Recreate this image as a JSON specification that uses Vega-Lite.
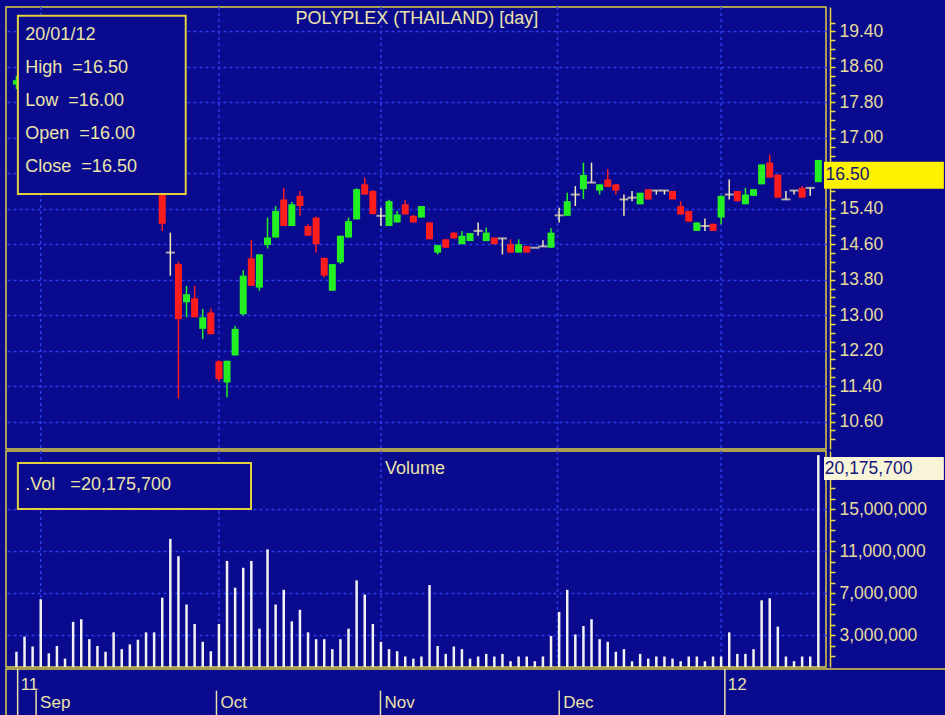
{
"$schema": "https://vega.github.io/schema/vega-lite/v6.json",
"background": "#0a0a8e",
"padding": {"left": 5, "top": 5, "right": 0, "bottom": 0},
"spacing": 2,
"bounds": "flush",
"config": {
  "view": {"stroke": "#e0d040", "strokeWidth": 1.5, "fill": "#0a0a8e"},
  "font": "Liberation Sans",
  "text": {"font": "Liberation Sans", "fontSize": 18, "color": "#ece4a8"}
},
"datasets": {
  "ohlc": [
{"i":0,"open":18.2,"high":18.4,"low":18.1,"close":18.3,"vol":1450000,"dir":"up"},
{"i":1,"open":18.3,"high":18.4,"low":18.0,"close":18.1,"vol":2900000,"dir":"down"},
{"i":2,"open":18.1,"high":18.3,"low":17.9,"close":18.2,"vol":1950000,"dir":"up"},
{"i":3,"open":18.2,"high":18.5,"low":18.1,"close":18.4,"vol":6450000,"dir":"up"},
{"i":4,"open":18.4,"high":18.5,"low":18.1,"close":18.2,"vol":1300000,"dir":"down"},
{"i":5,"open":18.2,"high":18.3,"low":17.9,"close":18.0,"vol":2000000,"dir":"down"},
{"i":6,"open":18.0,"high":18.1,"low":17.9,"close":18.0,"vol":800000,"dir":"doji"},
{"i":7,"open":18.0,"high":18.2,"low":17.6,"close":17.7,"vol":4300000,"dir":"down"},
{"i":8,"open":17.7,"high":18.0,"low":17.6,"close":17.9,"vol":4550000,"dir":"up"},
{"i":9,"open":17.9,"high":18.0,"low":17.6,"close":17.7,"vol":2650000,"dir":"down"},
{"i":10,"open":17.7,"high":17.8,"low":17.4,"close":17.5,"vol":2000000,"dir":"down"},
{"i":11,"open":17.5,"high":17.7,"low":17.4,"close":17.6,"vol":1450000,"dir":"up"},
{"i":12,"open":17.6,"high":17.7,"low":17.1,"close":17.2,"vol":3300000,"dir":"down"},
{"i":13,"open":17.2,"high":17.4,"low":17.1,"close":17.3,"vol":1700000,"dir":"up"},
{"i":14,"open":17.3,"high":17.4,"low":16.9,"close":17.0,"vol":2150000,"dir":"down"},
{"i":15,"open":17.0,"high":17.2,"low":16.8,"close":17.1,"vol":2600000,"dir":"up"},
{"i":16,"open":17.1,"high":17.2,"low":16.5,"close":16.6,"vol":3300000,"dir":"down"},
{"i":17,"open":16.6,"high":16.8,"low":16.1,"close":16.2,"vol":3300000,"dir":"down"},
{"i":18,"open":16.2,"high":16.3,"low":14.9,"close":15.06,"vol":6600000,"dir":"down"},
{"i":19,"open":14.41,"high":14.86,"low":13.89,"close":14.41,"vol":12200000,"dir":"doji"},
{"i":20,"open":14.15,"high":14.2,"low":11.12,"close":12.91,"vol":10550000,"dir":"down"},
{"i":21,"open":13.29,"high":13.66,"low":12.95,"close":13.47,"vol":5950000,"dir":"up"},
{"i":22,"open":13.38,"high":13.66,"low":12.95,"close":12.95,"vol":4100000,"dir":"down"},
{"i":23,"open":12.69,"high":13.14,"low":12.46,"close":12.95,"vol":2400000,"dir":"up"},
{"i":24,"open":13.06,"high":13.15,"low":12.57,"close":12.57,"vol":1500000,"dir":"down"},
{"i":25,"open":11.96,"high":11.98,"low":11.5,"close":11.56,"vol":4100000,"dir":"down"},
{"i":26,"open":11.48,"high":11.97,"low":11.15,"close":11.97,"vol":10100000,"dir":"up"},
{"i":27,"open":12.09,"high":12.76,"low":12.09,"close":12.69,"vol":7550000,"dir":"up"},
{"i":28,"open":13.02,"high":14.01,"low":12.99,"close":13.89,"vol":9450000,"dir":"up"},
{"i":29,"open":14.28,"high":14.69,"low":13.66,"close":13.66,"vol":10100000,"dir":"down"},
{"i":30,"open":13.62,"high":14.37,"low":13.55,"close":14.37,"vol":3650000,"dir":"up"},
{"i":31,"open":14.58,"high":15.2,"low":14.5,"close":14.75,"vol":11200000,"dir":"up"},
{"i":32,"open":14.75,"high":15.46,"low":14.75,"close":15.35,"vol":5950000,"dir":"up"},
{"i":33,"open":15.61,"high":15.87,"low":15.01,"close":15.01,"vol":7350000,"dir":"down"},
{"i":34,"open":15.01,"high":15.55,"low":15.01,"close":15.5,"vol":4350000,"dir":"up"},
{"i":35,"open":15.69,"high":15.8,"low":15.24,"close":15.46,"vol":5450000,"dir":"down"},
{"i":36,"open":15.01,"high":15.05,"low":14.79,"close":14.79,"vol":3300000,"dir":"down"},
{"i":37,"open":15.2,"high":15.22,"low":14.41,"close":14.6,"vol":2650000,"dir":"down"},
{"i":38,"open":14.29,"high":14.3,"low":13.85,"close":13.89,"vol":2650000,"dir":"down"},
{"i":39,"open":13.55,"high":14.15,"low":13.55,"close":14.15,"vol":1700000,"dir":"up"},
{"i":40,"open":14.19,"high":14.79,"low":14.15,"close":14.79,"vol":2650000,"dir":"up"},
{"i":41,"open":14.75,"high":15.2,"low":14.75,"close":15.12,"vol":3650000,"dir":"up"},
{"i":42,"open":15.16,"high":15.86,"low":15.16,"close":15.84,"vol":8250000,"dir":"up"},
{"i":43,"open":15.95,"high":16.1,"low":15.72,"close":15.72,"vol":6900000,"dir":"down"},
{"i":44,"open":15.8,"high":15.82,"low":15.27,"close":15.28,"vol":4100000,"dir":"down"},
{"i":45,"open":15.24,"high":15.42,"low":15.01,"close":15.24,"vol":2400000,"dir":"doji"},
{"i":46,"open":15.01,"high":15.6,"low":15.01,"close":15.57,"vol":1700000,"dir":"up"},
{"i":47,"open":15.09,"high":15.35,"low":15.09,"close":15.27,"vol":1500000,"dir":"up"},
{"i":48,"open":15.5,"high":15.59,"low":15.27,"close":15.27,"vol":1000000,"dir":"down"},
{"i":49,"open":15.24,"high":15.26,"low":15.09,"close":15.09,"vol":800000,"dir":"down"},
{"i":50,"open":15.2,"high":15.46,"low":15.2,"close":15.46,"vol":1000000,"dir":"up"},
{"i":51,"open":15.09,"high":15.1,"low":14.71,"close":14.71,"vol":7800000,"dir":"down"},
{"i":52,"open":14.41,"high":14.58,"low":14.37,"close":14.58,"vol":2000000,"dir":"up"},
{"i":53,"open":14.71,"high":14.72,"low":14.52,"close":14.52,"vol":1250000,"dir":"down"},
{"i":54,"open":14.86,"high":14.88,"low":14.73,"close":14.73,"vol":1950000,"dir":"down"},
{"i":55,"open":14.6,"high":14.9,"low":14.6,"close":14.79,"vol":1700000,"dir":"up"},
{"i":56,"open":14.67,"high":14.85,"low":14.67,"close":14.85,"vol":800000,"dir":"up"},
{"i":57,"open":14.9,"high":15.09,"low":14.79,"close":14.9,"vol":1000000,"dir":"doji"},
{"i":58,"open":14.67,"high":14.97,"low":14.67,"close":14.86,"vol":1250000,"dir":"up"},
{"i":59,"open":14.75,"high":14.75,"low":14.6,"close":14.6,"vol":1000000,"dir":"down"},
{"i":60,"open":14.73,"high":14.73,"low":14.37,"close":14.73,"vol":1250000,"dir":"doji"},
{"i":61,"open":14.6,"high":14.71,"low":14.41,"close":14.41,"vol":550000,"dir":"down"},
{"i":62,"open":14.41,"high":14.71,"low":14.41,"close":14.6,"vol":1000000,"dir":"up"},
{"i":63,"open":14.56,"high":14.56,"low":14.41,"close":14.41,"vol":1000000,"dir":"down"},
{"i":64,"open":14.52,"high":14.52,"low":14.52,"close":14.52,"vol":550000,"dir":"doji"},
{"i":65,"open":14.55,"high":14.69,"low":14.55,"close":14.55,"vol":1000000,"dir":"doji"},
{"i":66,"open":14.52,"high":14.96,"low":14.52,"close":14.86,"vol":2950000,"dir":"up"},
{"i":67,"open":15.25,"high":15.42,"low":15.09,"close":15.25,"vol":5250000,"dir":"doji"},
{"i":68,"open":15.24,"high":15.76,"low":15.24,"close":15.57,"vol":7350000,"dir":"up"},
{"i":69,"open":15.72,"high":15.91,"low":15.46,"close":15.72,"vol":3100000,"dir":"doji"},
{"i":70,"open":15.84,"high":16.44,"low":15.62,"close":16.16,"vol":3900000,"dir":"up"},
{"i":71,"open":15.99,"high":16.44,"low":15.99,"close":15.99,"vol":4550000,"dir":"doji"},
{"i":72,"open":15.81,"high":15.95,"low":15.72,"close":15.95,"vol":2650000,"dir":"up"},
{"i":73,"open":16.06,"high":16.29,"low":15.89,"close":15.89,"vol":2400000,"dir":"down"},
{"i":74,"open":15.95,"high":15.95,"low":15.72,"close":15.81,"vol":1450000,"dir":"down"},
{"i":75,"open":15.61,"high":15.72,"low":15.24,"close":15.61,"vol":1700000,"dir":"doji"},
{"i":76,"open":15.65,"high":15.8,"low":15.57,"close":15.65,"vol":550000,"dir":"doji"},
{"i":77,"open":15.5,"high":15.76,"low":15.5,"close":15.76,"vol":1250000,"dir":"up"},
{"i":78,"open":15.84,"high":15.84,"low":15.61,"close":15.61,"vol":800000,"dir":"down"},
{"i":79,"open":15.81,"high":15.81,"low":15.72,"close":15.81,"vol":1000000,"dir":"doji"},
{"i":80,"open":15.81,"high":15.81,"low":15.72,"close":15.81,"vol":1000000,"dir":"doji"},
{"i":81,"open":15.8,"high":15.8,"low":15.61,"close":15.61,"vol":800000,"dir":"down"},
{"i":82,"open":15.46,"high":15.57,"low":15.27,"close":15.27,"vol":550000,"dir":"down"},
{"i":83,"open":15.35,"high":15.35,"low":15.11,"close":15.11,"vol":1000000,"dir":"down"},
{"i":84,"open":14.9,"high":15.09,"low":14.9,"close":15.09,"vol":1000000,"dir":"up"},
{"i":85,"open":15.01,"high":15.18,"low":14.9,"close":15.01,"vol":550000,"dir":"doji"},
{"i":86,"open":15.06,"high":15.06,"low":14.9,"close":14.9,"vol":1000000,"dir":"down"},
{"i":87,"open":15.2,"high":15.69,"low":15.05,"close":15.69,"vol":1000000,"dir":"up"},
{"i":88,"open":15.72,"high":16.06,"low":15.61,"close":15.72,"vol":3300000,"dir":"doji"},
{"i":89,"open":15.8,"high":15.8,"low":15.57,"close":15.57,"vol":1250000,"dir":"down"},
{"i":90,"open":15.5,"high":15.87,"low":15.5,"close":15.72,"vol":1250000,"dir":"up"},
{"i":91,"open":15.69,"high":15.84,"low":15.69,"close":15.84,"vol":1700000,"dir":"up"},
{"i":92,"open":15.95,"high":16.4,"low":15.95,"close":16.4,"vol":6350000,"dir":"up"},
{"i":93,"open":16.44,"high":16.62,"low":16.1,"close":16.1,"vol":6550000,"dir":"down"},
{"i":94,"open":16.17,"high":16.17,"low":15.65,"close":15.65,"vol":3850000,"dir":"down"},
{"i":95,"open":15.61,"high":15.8,"low":15.61,"close":15.61,"vol":1000000,"dir":"doji"},
{"i":96,"open":15.81,"high":15.81,"low":15.72,"close":15.81,"vol":550000,"dir":"doji"},
{"i":97,"open":15.87,"high":15.91,"low":15.65,"close":15.65,"vol":1000000,"dir":"down"},
{"i":98,"open":15.87,"high":15.87,"low":15.69,"close":15.87,"vol":1000000,"dir":"doji"},
{"i":99,"open":16.0,"high":16.5,"low":16.0,"close":16.5,"vol":20175700,"dir":"up"}
  ],
  "periods": [
    {"i": 0.75, "label": "11", "kind": "year"},
    {"i": 3, "label": "Sep", "kind": "month"},
    {"i": 25, "label": "Oct", "kind": "month"},
    {"i": 45, "label": "Nov", "kind": "month"},
    {"i": 66.8, "label": "Dec", "kind": "month"},
    {"i": 87, "label": "12", "kind": "year"}
  ],
  "note": [{"n": 1}]
},
"vconcat": [
{
  "width": 820, "height": 442,
  "layer": [
    {"data": {"name": "periods"},
     "transform": [{"filter": "datum.i > 1"}],
     "mark": {"type": "rule", "color": "#2a3ce8", "strokeWidth": 1.5, "strokeDash": [3, 3]},
     "encoding": {"x": {"field": "i", "type": "quantitative", "scale": {"domain": [-0.67, 99.33], "nice": false, "zero": false}, "axis": null}}},
    {"data": {"name": "ohlc"},
     "mark": {"type": "rule", "strokeWidth": 1.5, "clip": true},
     "encoding": {
       "x": {"field": "i", "type": "quantitative"},
       "y": {"field": "low", "type": "quantitative", "scale": {"domain": [9.98, 19.95], "nice": false, "zero": false},
         "axis": {"orient": "right", "title": null, "offset": 4, "tickCount": 200,
           "values": [10.2,10.4,10.6,10.8,11.0,11.2,11.4,11.6,11.8,12.0,12.2,12.4,12.6,12.8,13.0,13.2,13.4,13.6,13.8,14.0,14.2,14.4,14.6,14.8,15.0,15.2,15.4,15.6,15.8,16.0,16.2,16.4,16.6,16.8,17.0,17.2,17.4,17.6,17.8,18.0,18.2,18.4,18.6,18.8,19.0,19.2,19.4,19.6],
           "grid": true, "gridColor": "#2a3ce8", "gridDash": [3, 3], "gridWidth": 1.5,
           "gridOpacity": {"condition": {"test": "abs((datum.value-10.6)/0.8-round((datum.value-10.6)/0.8))<0.02", "value": 1}, "value": 0},
           "tickColor": "#e8d838", "tickWidth": 1.5, "tickSize": 5,
           "domain": true, "domainColor": "#e8d838", "domainWidth": 1.5,
           "labelExpr": "abs((datum.value-10.6)/0.8-round((datum.value-10.6)/0.8))<0.02 && abs(datum.value-16.2)>0.02 ? format(datum.value,'.2f') : ''",
           "labelColor": "#e6dc9c", "labelFontSize": 17.5, "labelPadding": 4, "labelFont": "Liberation Sans", "labelOverlap": false}},
       "y2": {"field": "high"},
       "color": {"field": "dir", "type": "nominal", "scale": {"domain": ["up", "down", "doji"], "range": ["#22f022", "#ff1c1c", "#f2eab8"]}, "legend": null}
     }},
    {"data": {"name": "ohlc"},
     "transform": [{"filter": "datum.dir != 'doji'"}],
     "mark": {"type": "bar", "size": 7, "clip": true},
     "encoding": {
       "x": {"field": "i", "type": "quantitative"},
       "y": {"field": "open", "type": "quantitative"},
       "y2": {"field": "close"},
       "color": {"field": "dir", "type": "nominal", "legend": null}
     }},
    {"data": {"name": "ohlc"},
     "transform": [{"filter": "datum.dir == 'doji'"}],
     "mark": {"type": "tick", "orient": "horizontal", "size": 9, "thickness": 2, "clip": true},
     "encoding": {
       "x": {"field": "i", "type": "quantitative"},
       "y": {"field": "open", "type": "quantitative"},
       "color": {"field": "dir", "type": "nominal", "legend": null}
     }},
    {"data": {"name": "note"},
     "mark": {"type": "rect", "fill": "#0a0a8e", "stroke": "#e0d040", "strokeWidth": 2, "clip": false},
     "encoding": {"x": {"datum": 0.18, "type": "quantitative"}, "x2": {"datum": 20.9}, "y": {"datum": 19.75, "type": "quantitative"}, "y2": {"datum": 15.73}}},
    {"data": {"name": "note"},
     "mark": {"type": "text", "align": "left", "baseline": "middle", "lineHeight": 33, "clip": false},
     "encoding": {"x": {"datum": 1.1, "type": "quantitative"}, "y": {"datum": 19.32, "type": "quantitative"},
       "text": {"value": ["20/01/12", "High\u00a0\u00a0=16.50", "Low\u00a0\u00a0=16.00", "Open\u00a0\u00a0=16.00", "Close\u00a0\u00a0=16.50"]}}},
    {"data": {"name": "note"},
     "mark": {"type": "text", "align": "center", "baseline": "middle", "clip": false},
     "encoding": {"x": {"datum": 49.45, "type": "quantitative"}, "y": {"datum": 19.67, "type": "quantitative"},
       "text": {"value": "POLYPLEX (THAILAND) [day]"}}},
    {"data": {"name": "note"},
     "mark": {"type": "rect", "fill": "#fff200", "clip": false},
     "encoding": {"x": {"datum": 99.7, "type": "quantitative"}, "x2": {"datum": 114.5}, "y": {"datum": 16.46, "type": "quantitative"}, "y2": {"datum": 15.85}}},
    {"data": {"name": "note"},
     "mark": {"type": "text", "align": "left", "baseline": "middle", "color": "#14147a", "fontSize": 17.5, "clip": false},
     "encoding": {"x": {"datum": 99.9, "type": "quantitative"}, "y": {"datum": 16.16, "type": "quantitative"},
       "text": {"value": "16.50"}}}
  ]
},
{
  "width": 820, "height": 216,
  "layer": [
    {"data": {"name": "periods"},
     "transform": [{"filter": "datum.i > 1"}],
     "mark": {"type": "rule", "color": "#2a3ce8", "strokeWidth": 1.5, "strokeDash": [3, 3]},
     "encoding": {"x": {"field": "i", "type": "quantitative", "scale": {"domain": [-0.67, 99.33], "nice": false, "zero": false}, "axis": null}}},
    {"data": {"name": "ohlc"},
     "mark": {"type": "bar", "size": 2.5, "color": "#f2f2f2", "clip": true},
     "encoding": {
       "x": {"field": "i", "type": "quantitative"},
       "y": {"field": "vol", "type": "quantitative", "scale": {"domain": [0, 20570000], "nice": false},
         "axis": {"orient": "right", "title": null, "offset": 4, "tickCount": 200,
           "values": [1000000,2000000,3000000,4000000,5000000,6000000,7000000,8000000,9000000,10000000,11000000,12000000,13000000,14000000,15000000,16000000,17000000,18000000,19000000],
           "grid": true, "gridColor": "#2a3ce8", "gridDash": [3, 3], "gridWidth": 1.5,
           "gridOpacity": {"condition": {"test": "(round(datum.value/1000000)-3)%4==0 && datum.value<16000000", "value": 1}, "value": 0},
           "tickColor": "#e8d838", "tickWidth": 1.5, "tickSize": 5,
           "domain": true, "domainColor": "#e8d838", "domainWidth": 1.5,
           "labelExpr": "(round(datum.value/1000000)-3)%4==0 && datum.value<16000000 ? format(datum.value, ',d') : ''",
           "labelColor": "#e6dc9c", "labelFontSize": 17.5, "labelPadding": 4, "labelFont": "Liberation Sans", "labelOverlap": false}}
     }},
    {"data": {"name": "note"},
     "mark": {"type": "rect", "fill": "#0a0a8e", "stroke": "#e0d040", "strokeWidth": 2, "clip": false},
     "encoding": {"x": {"datum": 0.18, "type": "quantitative"}, "x2": {"datum": 28.96}, "y": {"datum": 19430000, "type": "quantitative"}, "y2": {"datum": 15050000}}},
    {"data": {"name": "note"},
     "mark": {"type": "text", "align": "left", "baseline": "middle", "clip": false},
     "encoding": {"x": {"datum": 1.1, "type": "quantitative"}, "y": {"datum": 17330000, "type": "quantitative"},
       "text": {"value": ".Vol\u00a0\u00a0\u00a0=20,175,700"}}},
    {"data": {"name": "note"},
     "mark": {"type": "text", "align": "center", "baseline": "middle", "clip": false},
     "encoding": {"x": {"datum": 49.2, "type": "quantitative"}, "y": {"datum": 18860000, "type": "quantitative"},
       "text": {"value": "Volume"}}},
    {"data": {"name": "note"},
     "mark": {"type": "rect", "fill": "#f8f4d8", "clip": false},
     "encoding": {"x": {"datum": 99.7, "type": "quantitative"}, "x2": {"datum": 114.5}, "y": {"datum": 20000000, "type": "quantitative"}, "y2": {"datum": 17810000}}},
    {"data": {"name": "note"},
     "mark": {"type": "text", "align": "left", "baseline": "middle", "color": "#14147a", "fontSize": 17.5, "clip": false},
     "encoding": {"x": {"datum": 99.8, "type": "quantitative"}, "y": {"datum": 18900000, "type": "quantitative"},
       "text": {"value": "20,175,700"}}}
  ]
},
{
  "width": 940, "height": 48,
  "data": {"name": "periods"},
  "layer": [
    {"transform": [{"filter": "datum.kind == 'year'"}],
     "mark": {"type": "rule", "color": "#e8e0a8", "strokeWidth": 1.5},
     "encoding": {
       "x": {"field": "i", "type": "quantitative", "scale": {"domain": [-0.67, 113.97], "nice": false, "zero": false}, "axis": null},
       "y": {"datum": 0, "type": "quantitative", "scale": {"domain": [0, 1], "nice": false}, "axis": null}, "y2": {"datum": 1}}},
    {"transform": [{"filter": "datum.kind == 'month'"}],
     "mark": {"type": "rule", "color": "#e8e0a8", "strokeWidth": 1.5},
     "encoding": {"x": {"field": "i", "type": "quantitative"}, "y": {"datum": 0, "type": "quantitative"}, "y2": {"datum": 0.55}}},
    {"transform": [{"filter": "datum.kind == 'year'"}],
     "mark": {"type": "text", "align": "left", "baseline": "middle", "dx": 3, "fontSize": 17},
     "encoding": {"x": {"field": "i", "type": "quantitative"}, "y": {"datum": 0.66, "type": "quantitative"}, "text": {"field": "label"}}},
    {"transform": [{"filter": "datum.kind == 'month'"}],
     "mark": {"type": "text", "align": "left", "baseline": "middle", "dx": 4, "fontSize": 17},
     "encoding": {"x": {"field": "i", "type": "quantitative"}, "y": {"datum": 0.3, "type": "quantitative"}, "text": {"field": "label"}}}
  ]
}
]
}
